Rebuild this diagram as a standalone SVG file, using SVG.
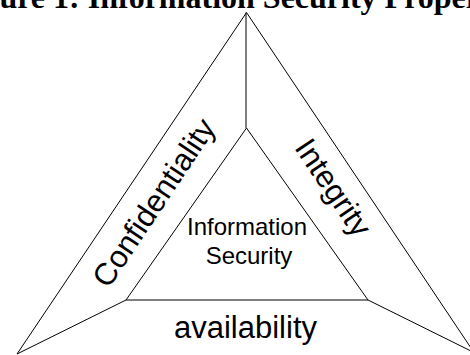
<svg xmlns="http://www.w3.org/2000/svg" width="470" height="355" viewBox="0 0 470 355">
<style>
.ln{stroke:#000;stroke-width:1;fill:none}
.lbl{font-family:"Liberation Sans",Arial,sans-serif;fill:#000}
.big{font-size:31px}
.mid{font-size:24px}
.title{font-family:"Liberation Serif","Times New Roman",serif;font-weight:bold;font-size:32px;fill:#000}
</style>
<rect width="470" height="355" fill="#fff"/>
<text class="title" x="-45" y="8">Figure 1: Information Security Properties</text>
<g id="connectors">
<polyline class="ln" points="475,354 246.5,12.5 17,354"/>
<line class="ln" x1="246" y1="12.5" x2="246" y2="128"/>
<line class="ln" x1="126" y1="300" x2="17" y2="354"/>
<line class="ln" x1="368" y1="300" x2="475" y2="353"/>
</g>
<g id="inner">
<polygon class="ln" points="246.5,128 126,300 368,300"/>
<text class="lbl mid" x="247" y="235" text-anchor="middle">Information</text>
<text class="lbl mid" x="249" y="264" text-anchor="middle">Security</text>
</g>
<g id="confidentiality">
<text class="lbl big" text-anchor="middle" transform="translate(162.5,208.5) rotate(-56.3)">Confidentiality</text>
</g>
<g id="integrity">
<text class="lbl big" text-anchor="middle" transform="translate(324.5,193.5) rotate(56)">Integrity</text>
</g>
<g id="availability">
<text class="lbl big" x="245.5" y="338" text-anchor="middle">availability</text>
</g>
</svg>
